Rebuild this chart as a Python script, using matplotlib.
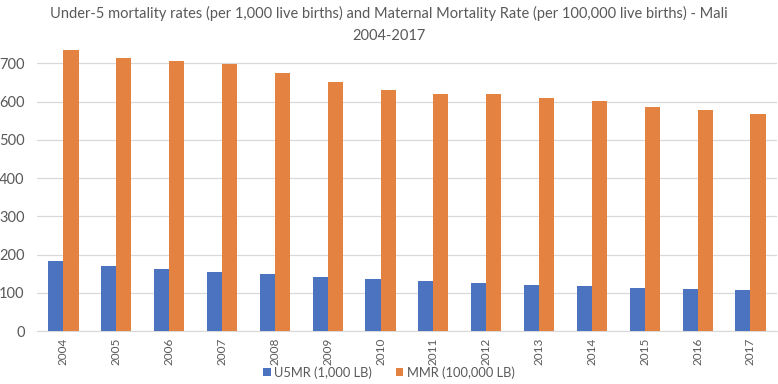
import matplotlib.pyplot as plt
import numpy as np

plt.rcParams['font.family'] = ['Lato', 'DejaVu Sans']

# Data
years = ['2004', '2005', '2006', '2007', '2008', '2009', '2010',
         '2011', '2012', '2013', '2014', '2015', '2016', '2017']
u5mr = [182, 171, 163, 155, 148, 142, 135, 130, 125, 121, 117, 113, 110, 106]
mmr = [735, 714, 707, 697, 674, 652, 631, 619, 619, 610, 602, 587, 578, 568]
y_ticks = [0, 100, 200, 300, 400, 500, 600, 700]

blue = '#4B73C0'
orange = '#E38241'
text_col = '#595959'

fig = plt.figure(figsize=(7.78, 3.84), dpi=100)
ax = fig.add_axes([0.0476, 0.138, 0.951, 0.747])

x = np.arange(len(years))
w = 0.285
ax.bar(x - w / 2, u5mr, w, color=blue, label='U5MR (1,000 LB)', zorder=3)
ax.bar(x + w / 2, mmr, w, color=orange, label='MMR (100,000 LB)', zorder=3)

ax.set_xlim(-0.5, len(years) - 0.5)
ax.set_ylim(0, 750)
ax.set_yticks(y_ticks)
ax.set_xticks(x)
ax.set_xticklabels(years, rotation=90)
ax.tick_params(axis='both', length=0, colors=text_col)
ax.tick_params(axis='x', pad=5, labelsize=8.5)
ax.tick_params(axis='y', pad=9, labelsize=10.5)
ax.grid(axis='y', color='#D9D9D9', linewidth=0.9, zorder=0)
for s in ['top', 'right', 'left']:
    ax.spines[s].set_visible(False)
ax.spines['bottom'].set_color('#D9D9D9')

fig.text(0.5, 0.965, 'Under-5 mortality rates (per 1,000 live births) and Maternal Mortality Rate (per 100,000 live births) - Mali',
         ha='center', va='center', fontsize=10.5, color=text_col)
fig.text(0.5, 0.905, '2004-2017', ha='center', va='center', fontsize=10.5, color=text_col)

fig.legend(loc='center', bbox_to_anchor=(0.5, 0.03), ncol=2, frameon=False,
           fontsize=9.3, handlelength=0.6, handleheight=0.6, handletextpad=0.3,
           columnspacing=1.8, labelcolor=text_col)

plt.savefig('out.png', dpi=100)
